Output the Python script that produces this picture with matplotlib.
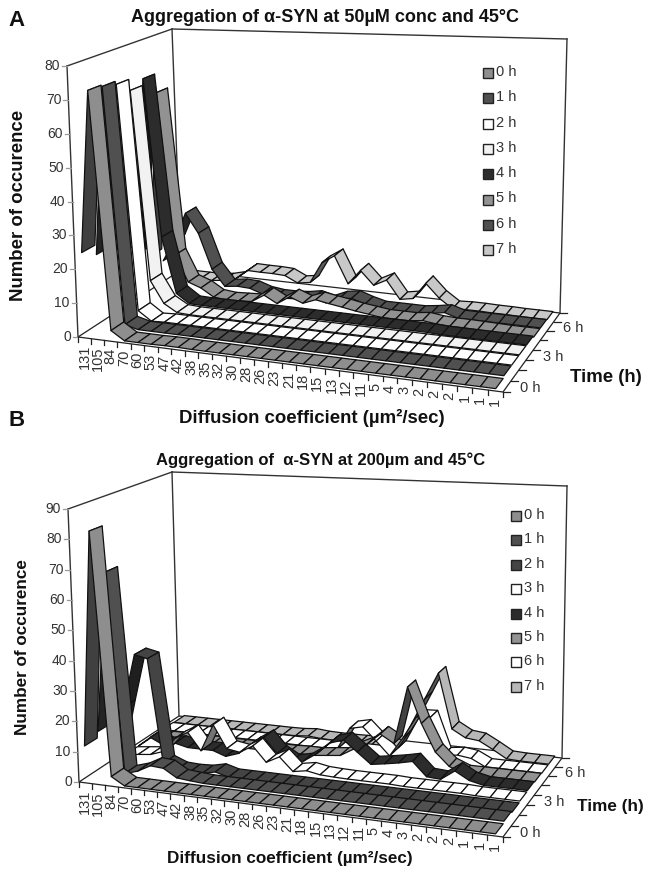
#!/usr/bin/env python3
"""Two Excel-style 3-D ribbon charts of alpha-SYN aggregation, projected by hand onto a pixel axes."""
import numpy as np
import matplotlib
matplotlib.use("Agg")
import matplotlib.pyplot as plt
from matplotlib.patches import Polygon

plt.rcParams["font.family"] = ["Liberation Sans", "DejaVu Sans"]

diff_labels = ["131", "105", "84", "70", "60", "53", "47", "42", "38", "35", "32", "30", "28", "26", "23",
               "21", "18", "15", "13", "12", "11", "5", "4", "3", "2", "2", "2", "1", "1", "1"]
hours = ["0 h", "1 h", "2 h", "3 h", "4 h", "5 h", "6 h", "7 h"]

# panel A, values
a0 = [25, 73, 3, .5, .5, .5, .6, .6, .5, .5, .5, .5, .5, .5, .5, .5, .5, .5, .5, .5, .5, .5, .5, .5, .5, .5, .5, .5, .5, .5]
a1 = [22, 72.5, 2, 1, 1, 1, 1, 1, 1, 1, 1, 1, 1, 1, 1, 1, 1, 1, 1, 1, 1, 1, 1, 1, 1, 1, 1, 1, 1, 1]
a2 = [20, 71.5, 3.5, .8, 1, 1, 1, 1, 1, 1, 1, 1, 1, 1, 1, 1, 1, 1, 1, 1, 1, 1, 1, 1, 1, 1, 1, 1, 1, 1]
a3 = [18, 68, 10, 3.5, 1.2, 1, 1, 1, 1, 1, 1, 1, 1, 1, 1, 1, 1, 1, 1, 1, 1, 1, 1, 1, 1, 1, 1, 1, 1, 1]
a4 = [15, 70, 21, 4, 1.3, 1.2, 1.2, 1.2, 1.2, 1.2, 1.2, 1.2, 1.2, 1.2, 1.2, 1.2, 1.2, 1.2, 1.2, 1.2, 1.2, 1.2, 1.2, 1, 1, 1, 1, 1, 1, 1]
a5 = [12, 64, 13, 5, 3.6, 1.2, .8, 1, 1.2, 3.6, 1.5, 4, 2.5, 4, 3.3, 2.7, 2, 1.5, 1, 1, 1, 1.5, 1, .8, .8, .7, .6, .5, .5, .5]
a6 = [8, 15, 24, 18, 7, 2, 2.5, 2.3, 1, .5, .5, .8, 1.5, .5, 2.2, 2.8, 1.5, .5, .5, .5, .5, 1, 1.7, .5, .5, .5, .5, .5, .5, .5]
a7 = [.5, .5, .5, .5, 1, 2, 5, 4.9, 4.9, 4.7, 2.8, 3.4, 10, 12.5, 4.3, 8.8, 4.7, 6.7, 1.3, 2, 7, 3, .3, .5, .5, .4, .4, .3, .3, .3]

# panel B
b0 = [12, 83, 3, .5, .5, .5, .5, .5, .5, .5, .5, .5, .5, .5, .5, .5, .5, .5, .5, .5, .5, .5, .5, .5, .5, .5, .5, .5, .5, .5]
b1 = [14, 67.5, 1, 2.3, 4.6, 4.3, 1.7, 1.3, 1, 1, 1, 1, 1, 1, 1, 1, 1, 1, 1, 1, 1, 1, 1, 1, 1, 1, 1, 1, 1, 1]
b2 = [1, 20, 38, 37, 2.4, .7, .5, .7, 1.7, .5, .5, .5, .5, .5, .5, .5, .5, .5, .5, .5, .5, .5, .5, .5, .5, .5, .5, .5, .5, .5]
b3 = [.5, 1, 1.5, 3, 8, 10.5, 4.8, 14, 6.5, 5.8, 8.4, 3.5, 5.8, 1.5, 2.3, 1.5, 1.3, 1.2, 1.2, 1.2, 1.2, 1, 1, 1, 1, 1, .8, .8, .8, .8]
b4 = [.5, 4, 2, 3, 2, 2, 2, .5, 2, 5.5, 8.4, 3.5, 1, 2, 5, 9, 10.5, 7, 3.5, 4.2, 5, 6, 1.6, 1.3, 4.5, 2, 1, 1, 1, 1]
b5 = [.8, .8, .8, .8, .8, .8, .8, .8, .8, .8, .8, .8, 1, 1, 1.5, 2, 4.6, 6.7, 10.6, 8, 27, 15.5, 6.7, 2.5, .7, .7, .7, .7, .7, .7]
b6 = [.7, .7, .7, .7, .7, .7, .7, .7, .7, .7, .7, .7, .7, .7, .7, 8.3, 9.3, 5, .5, 7, 14.5, 14.7, 2.7, 3.3, 2.7, .5, .5, .5, .5, .5]
b7 = [.5, .5, .5, .5, .5, .5, .5, .5, .5, .5, .6, 1, .6, .5, .5, .6, .6, .6, .4, 9, 18, 27, 8.7, 6.2, 5.7, 3.3, .7, .5, .5, .5]

# panel geometry in pixels: floor corners and wall tops
a_floor = [(78, 337), (181, 270), (560, 313), (503, 392)]
a_top = [(67, 66), (172, 29), (567, 39), (510, 84)]
b_floor = [(79, 782), (179, 716), (562, 758), (503, 837)]
b_top = [(68, 509), (172, 472), (567, 486), (510, 530)]

a_colors = ["#8e8e8e", "#505050", "#ffffff", "#f2f2f2", "#2c2c2c", "#929292", "#505050", "#c8c8c8"]
b_colors = ["#8e8e8e", "#505050", "#444444", "#ffffff", "#2c2c2c", "#929292", "#ffffff", "#b8b8b8"]


def homography(pts):
    src = [(0, 0), (0, 1), (1, 1), (1, 0)]
    A, y = [], []
    for (u, v), (X, Y) in zip(src, pts):
        A.append([u, v, 1, 0, 0, 0, -u * X, -v * X])
        A.append([0, 0, 0, u, v, 1, -u * Y, -v * Y])
        y += [X, Y]
    h = np.linalg.solve(np.array(A, float), np.array(y, float))
    return np.append(h, 1).reshape(3, 3)


def apply_h(H, u, v):
    p = H @ np.array([u, v, 1.0])
    return p[:2] / p[2]


def area(q):
    q = np.array(q)
    x, y = q[:, 0], q[:, 1]
    return 0.5 * np.sum(x * np.roll(y, -1) - np.roll(x, -1) * y)


def darker(c, f=0.45):
    r, g, b = matplotlib.colors.to_rgb(c)
    return (r * f, g * f, b * f)


def panel(ax, floor, top, zmax, zstep, series, colors, title, title_xy, title_fs, letter, letter_y,
          leg_x, leg_y, leg_dy, xlabel_xy, ylabel_xy, tlabel_xy, label_fs, tick_col="#333333"):
    Hf, Ht = homography(floor), homography(top)
    n = len(diff_labels)
    nt = len(series)

    def proj(i, t, z):
        # i in category units, t in series units, z in data units
        u, v = i / n, t / nt
        return (1 - z / zmax) * apply_h(Hf, u, v) + z / zmax * apply_h(Ht, u, v)

    # floor and walls
    ax.add_patch(Polygon([proj(0, 0, 0), proj(0, nt, 0), proj(n, nt, 0), proj(n, 0, 0)],
                         closed=True, fc="white", ec="#222222", lw=0.9, zorder=1))
    for a, b in [((0, 0, 0), (0, 0, zmax)), ((0, 0, zmax), (0, nt, zmax)), ((0, nt, zmax), (n, nt, zmax)),
                 ((0, nt, zmax), (0, nt, 0)), ((n, nt, zmax), (n, nt, 0))]:
        pa, pb = proj(*a), proj(*b)
        ax.plot([pa[0], pb[0]], [pa[1], pb[1]], color="#333333", lw=1.0, zorder=1)

    # ribbons, far series first, left to right
    zo = 2
    for k in range(nt - 1, -1, -1):
        vals = series[k]
        t0, t1 = k + 0.04, k + 0.96
        for i in range(n - 1):
            q = [proj(i + .5, t0, vals[i]), proj(i + .5, t1, vals[i]),
                 proj(i + 1.5, t1, vals[i + 1]), proj(i + 1.5, t0, vals[i + 1])]
            # flat ribbon orientation is the top side, a flipped quad shows the underside
            c = darker(colors[k]) if area(q) < 0 else colors[k]
            ax.add_patch(Polygon(q, closed=True, fc=c, ec="#111111", lw=0.9, joinstyle="round", zorder=zo))
            zo += 0.001

    # z axis ticks and labels
    for z in np.arange(0, zmax + 1, zstep):
        p = proj(0, 0, z)
        ax.plot([p[0] - 5, p[0]], [p[1], p[1]], color="#999999", lw=0.9, zorder=1)
        ax.text(p[0] - 7, p[1], f"{z:.0f}", ha="right", va="center", fontsize=10, color=tick_col)

    # x ticks and labels
    for i in range(n + 1):
        p = proj(i, 0, 0)
        ax.plot([p[0], p[0]], [p[1], p[1] + 5], color="#222222", lw=0.9, zorder=1)
    for i, lab in enumerate(diff_labels):
        p = proj(i + .5, 0, 0)
        ax.text(p[0], p[1] + 7, lab, rotation=90, ha="center", va="top", fontsize=10.5, color=tick_col)

    # time ticks and labels
    for k in range(nt + 1):
        p = proj(n, k, 0)
        ax.plot([p[0], p[0] + 7], [p[1], p[1]], color="#222222", lw=0.9, zorder=1)
    for k, lab in [(0, "0 h"), (3, "3 h"), (6, "6 h")]:
        p = proj(n, k + .5, 0)
        ax.text(p[0] + 13, p[1] + 2, lab, ha="left", va="center", fontsize=10.5, color=tick_col)

    # legend
    for k, lab in enumerate(hours):
        y = leg_y + k * leg_dy
        ax.add_patch(Polygon([(leg_x - 5, y - 5), (leg_x + 5, y - 5), (leg_x + 5, y + 5), (leg_x - 5, y + 5)],
                             closed=True, fc=colors[k], ec="#222222", lw=1.0))
        ax.text(leg_x + 8, y - 1, lab, ha="left", va="center", fontsize=10.5, color=tick_col)

    ax.text(title_xy[0], title_xy[1], title, ha="center", va="center", fontsize=title_fs, fontweight="bold", color="#111111")
    ax.text(8, letter_y, letter, ha="left", va="center", fontsize=16, fontweight="bold", color="#111111")
    ax.text(xlabel_xy[0], xlabel_xy[1], "Diffusion coefficient (µm²/sec)", ha="center", va="center",
            fontsize=label_fs, fontweight="bold", color="#111111")
    ax.text(ylabel_xy[0], ylabel_xy[1], "Number of occurence", rotation=90, ha="center", va="center",
            fontsize=label_fs, fontweight="bold", color="#111111")
    ax.text(tlabel_xy[0], tlabel_xy[1], "Time (h)", ha="center", va="center", fontsize=label_fs, fontweight="bold", color="#111111")


fig = plt.figure(figsize=(6.46, 8.69), dpi=100)
ax = fig.add_axes([0, 0, 1, 1])
ax.set_xlim(0, 646)
ax.set_ylim(869, 0)
ax.axis("off")

panel(ax, a_floor, a_top, 80, 10, [a0, a1, a2, a3, a4, a5, a6, a7], a_colors,
      "Aggregation of α-SYN at 50µM conc and 45°C", (325, 17), 13, "A", 21, 488, 73, 25.3,
      (312, 418), (19, 205), (606, 378), 13.4)
panel(ax, b_floor, b_top, 90, 10, [b0, b1, b2, b3, b4, b5, b6, b7], b_colors,
      "Aggregation of  α-SYN at 200µm and 45°C", (321, 460), 12, "B", 421, 516, 516, 24.4,
      (290, 858), (23, 647), (610, 806), 12.3)

fig.savefig("out.png", dpi=100)
